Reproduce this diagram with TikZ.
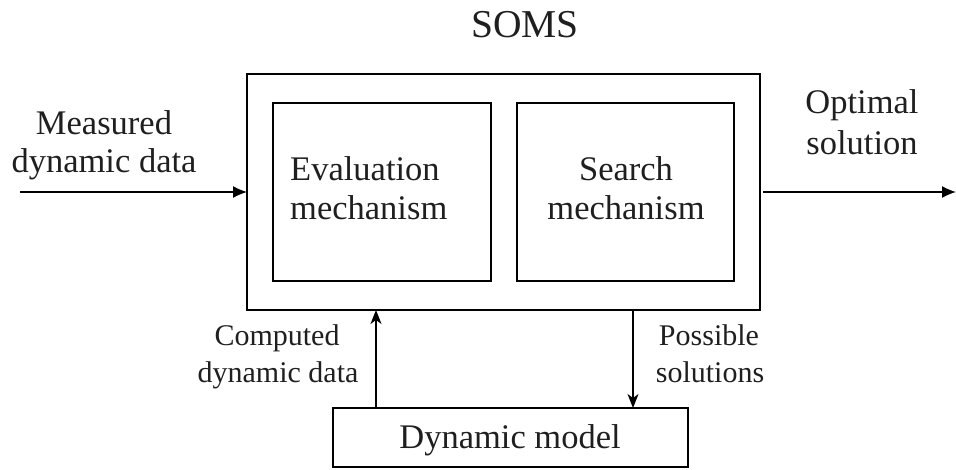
\documentclass[tikz,border=0pt]{standalone}
\usepackage{fontspec}
\setmainfont{Liberation Serif}
\usetikzlibrary{arrows.meta}
\begin{document}
\begin{tikzpicture}[x=1pt,y=-1pt,
  box/.style={draw,line width=1.3pt,inner sep=0pt},
  lbl/.style={inner sep=0pt,anchor=base,font=\fontsize{34.5}{39}\selectfont,text=black!88},
  lbll/.style={inner sep=0pt,anchor=base west,font=\fontsize{34.5}{39}\selectfont,text=black!88},
  small/.style={inner sep=0pt,anchor=base,font=\fontsize{30}{36}\selectfont,text=black!88},
  big/.style={inner sep=0pt,anchor=base,font=\fontsize{39.5}{44}\selectfont,text=black!88},
  conn/.style={line width=1.3pt,-{Latex[length=14pt,width=12pt]}},
  vconn/.style={line width=1.3pt,-{Stealth[length=14pt,width=11pt,inset=4pt]}}]
\useasboundingbox (0,0) rectangle (956,469);
% boxes
\draw[box] (247,74) rectangle (760,310);
\coordinate (outerW) at (247,192);
\coordinate (outerE) at (760,192);
\draw[box] (273,103) rectangle (491,281);
\draw[box] (517,103) rectangle (734,281);
\draw[box] (333,408) rectangle (688,467);
\coordinate (outerS1) at (376,310);
\coordinate (outerS2) at (633,310);
\coordinate (dynN1) at (376,408);
\coordinate (dynN2) at (633,408);
\coordinate (inStart) at (20,192);
\coordinate (outEnd) at (956,192);
% texts
\node[big] (soms) at (525,37) {SOMS};
\node[lbl] (meas1) at (104,134) {Measured};
\node[lbl] (meas2) at (104,172) {dynamic data};
\node[lbll] (eval1) at (290,180) {Evaluation};
\node[lbll] (eval2) at (290,219) {mechanism};
\node[lbl] (srch1) at (626,180) {Search};
\node[lbl] (srch2) at (626,219) {mechanism};
\node[lbl] (opt1) at (862,113) {Optimal};
\node[lbl] (opt2) at (862,154) {solution};
\node[small] (comp1) at (277,345) {Computed};
\node[small] (comp2) at (278,382) {dynamic data};
\node[small] (poss1) at (709,345) {Possible};
\node[small] (poss2) at (710,382) {solutions};
\node[lbl] (dyn) at (510,448) {Dynamic model};
% connectors
\draw[conn] (inStart) -- (outerW);
\draw[conn] (outerE) ++(3,0) -- (outEnd);
\draw[vconn] (dynN1) -- (outerS1);
\draw[vconn] (outerS2) -- (dynN2);
\end{tikzpicture}
\end{document}
